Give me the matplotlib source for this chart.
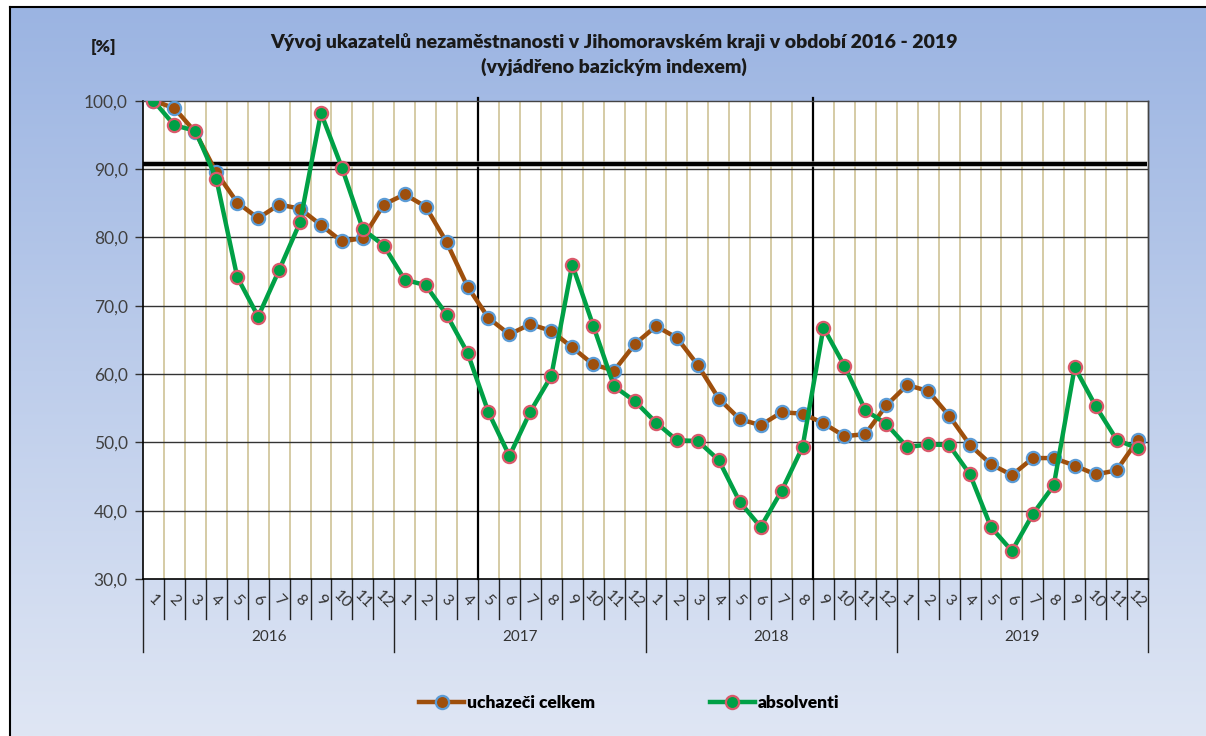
import numpy as np
import matplotlib
matplotlib.use('Agg')
import matplotlib.pyplot as plt
from matplotlib.lines import Line2D
import matplotlib.transforms as mtransforms

plt.rcParams['font.family'] = ['Lato', 'DejaVu Sans']

# data
years = ['2016', '2017', '2018', '2019']
months = [str(m) for m in range(1, 13)]
uchazeci = [100.0, 98.9, 95.4, 89.5, 85.1, 82.8, 84.8, 84.2, 81.8, 79.4, 79.9, 84.8,
            86.3, 84.5, 79.3, 72.8, 68.2, 65.8, 67.3, 66.3, 63.9, 61.4, 60.5, 64.4,
            67.0, 65.3, 61.3, 56.4, 53.4, 52.5, 54.4, 54.2, 52.8, 50.9, 51.2, 55.4,
            58.4, 57.5, 53.9, 49.6, 46.8, 45.2, 47.7, 47.7, 46.6, 45.3, 45.9, 50.3]
absolventi = [100.0, 96.4, 95.6, 88.6, 74.2, 68.4, 75.2, 82.2, 98.2, 90.2, 81.2, 78.8,
              73.8, 73.0, 68.7, 63.1, 54.4, 48.0, 54.5, 59.7, 76.0, 67.1, 58.2, 56.0,
              52.9, 50.3, 50.2, 47.4, 41.3, 37.6, 42.9, 49.3, 66.8, 61.2, 54.7, 52.7,
              49.3, 49.7, 49.6, 45.3, 37.6, 34.1, 39.5, 43.7, 61.0, 55.3, 50.4, 49.1]
reference_level = 90.8
marker_breaks = [16, 32]   # vertical black lines (category boundaries)

n = len(uchazeci)
x = np.arange(n)

fig = plt.figure(figsize=(12.06, 7.36), dpi=100, facecolor='white')

# gradient background inside the border
bg = fig.add_axes([10 / 1206, 0, 1 - 10 / 1206, 1 - 7 / 736], zorder=-10)
top = np.array([0x9B, 0xB4, 0xE2]) / 255
bot = np.array([0xDF, 0xE6, 0xF4]) / 255
t = np.linspace(0, 1, 256)[:, None]
grad = top[None, :] * (1 - t) + bot[None, :] * t
bg.imshow(grad[:, None, :], aspect='auto', extent=[0, 1, 0, 1])
bg.set_axis_off()
fig.add_artist(Line2D([10 / 1206, 10 / 1206], [0, 1 - 7 / 736], color='black', lw=1.5))
fig.add_artist(Line2D([10 / 1206, 1], [1 - 7 / 736, 1 - 7 / 736], color='black', lw=1.5))

ax = fig.add_axes([143 / 1206, 1 - 579 / 736, (1148 - 143) / 1206, (579 - 100.7) / 736])
ax.set_facecolor('white')
ax.set_xlim(-0.5, n - 0.5)
ax.set_ylim(30, 100)

# grid
for b in np.arange(0.5, n - 0.5, 1):
    ax.axvline(b, color='#D2C79E', lw=1.3, zorder=1)
for v in range(40, 100, 10):
    ax.axhline(v, color='#333333', lw=1.0, zorder=1)
for b in marker_breaks:
    ax.axvline(b - 0.5, color='black', lw=1.6, zorder=2, ymax=1.005, clip_on=False)
ax.plot([-0.5, n - 0.55], [reference_level, reference_level], color='#B0B0B0', lw=4.5, zorder=2,
        solid_capstyle='butt', alpha=0.6)
ax.plot([-0.5, n - 0.55], [reference_level, reference_level], color='black', lw=3, zorder=2,
        solid_capstyle='butt')

# series
l1, = ax.plot(x, uchazeci, color='#9E4F0C', lw=3.2, marker='o', markersize=9.5,
              markerfacecolor='#9E4F0C', markeredgecolor='#5B9BD5', markeredgewidth=1.6,
              zorder=4, label='uchazeči celkem')
l2, = ax.plot(x, absolventi, color='#00A046', lw=3.2, marker='o', markersize=9.5,
              markerfacecolor='#00A046', markeredgecolor='#D9596A', markeredgewidth=1.6,
              zorder=5, label='absolventi')

# axes styling
for s in ['top', 'right']:
    ax.spines[s].set_color('#444444')
    ax.spines[s].set_linewidth(1.0)
for s in ['left', 'bottom']:
    ax.spines[s].set_color('black')
    ax.spines[s].set_linewidth(1.2)
ax.set_yticks(range(30, 101, 10))
ax.set_yticklabels(['{:.1f}'.format(v).replace('.', ',') for v in range(30, 101, 10)])
ax.tick_params(axis='y', length=6, width=1.0, color='#333333', pad=5, labelsize=12.5,
               labelcolor='#404040')
ax.set_xticks([])

# category axis (months + years)
trans = mtransforms.blended_transform_factory(ax.transData, ax.transAxes)
h = (579 - 100.7)
for i in range(n):
    ax.text(x[i], -21 / h, months[i % 12], transform=trans, rotation=-45, ha='center',
            va='center', fontsize=11.5, color='#333333')
for b in np.arange(-0.5, n, 1):
    yl = -73 / h if (b + 0.5) % 12 == 0 else -40 / h
    ax.plot([b, b], [0, yl], transform=trans, color='#222222', lw=1.0, clip_on=False)
for k, yr in enumerate(years):
    ax.text(k * 12 + 5.5, -58 / h, yr, transform=trans, ha='center', va='center',
            fontsize=11, color='#333333')
ax.plot([n - 0.5, n - 0.5], [0, 1], transform=trans, color='#333333', lw=1.0, clip_on=False)

# titles
fig.text(614 / 1206, 1 - 42 / 736, 'Vývoj ukazatelů nezaměstnanosti v Jihomoravském kraji v období 2016 - 2019',
         ha='center', va='center', fontsize=14, fontweight='heavy', color='#1a1a1a')
fig.text(614 / 1206, 1 - 67 / 736, '(vyjádřeno bazickým indexem)',
         ha='center', va='center', fontsize=14, fontweight='heavy', color='#1a1a1a')
fig.text(104 / 1206, 1 - 47 / 736, '[%]', ha='center', va='center', fontsize=12.5,
         fontweight='heavy', color='#1a1a1a')

fig.legend(handles=[l1, l2], loc='center', bbox_to_anchor=(629 / 1206, 1 - 703 / 736),
           ncol=2, frameon=False, prop={'weight': 'heavy', 'size': 12.5},
           handlelength=2.6, handletextpad=0.15, columnspacing=6.6)

fig.savefig('out.png', dpi=100, facecolor=fig.get_facecolor())
